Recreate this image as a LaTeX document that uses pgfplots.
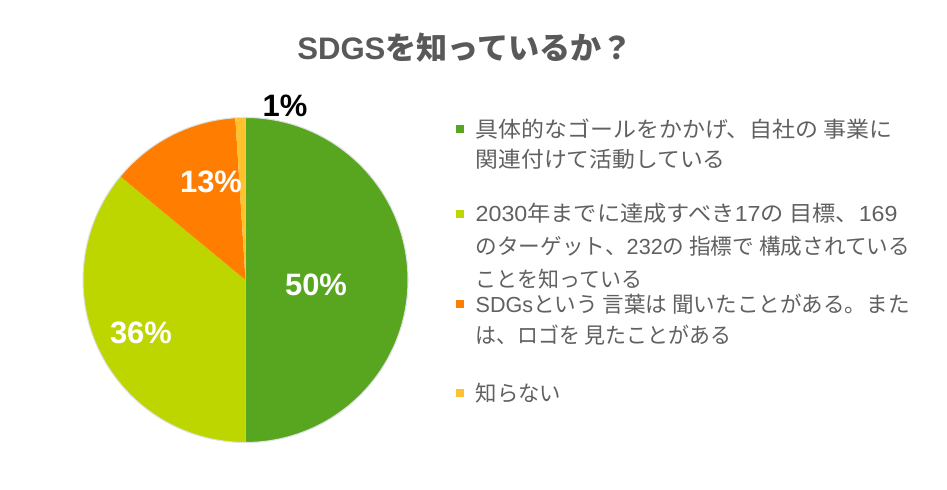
\documentclass[border=0pt]{standalone}
\usepackage{pgfplots}
\pgfplotsset{compat=1.18}
\usepackage{pgfplotstable}
\usepackage{fontspec}
\setmainfont{Liberation Sans}
\newfontfamily\jp{Noto Sans CJK JP}
\definecolor{c1}{HTML}{58A620}
\definecolor{c2}{HTML}{BDD600}
\definecolor{c3}{HTML}{FF7D00}
\definecolor{c4}{HTML}{FFC22E}
\definecolor{txt}{HTML}{595959}
\definecolor{ltxt}{HTML}{606060}
\pgfplotstableread{
idx value color
0 50 c1
1 36 c2
2 13 c3
3 1 c4
}\piedata
\begin{document}
\begin{tikzpicture}
\begin{axis}[
  width=94.7mm, height=49mm, scale only axis,
  xmin=0, xmax=947, ymin=0, ymax=490, y dir=reverse,
  axis lines=none, clip=false,
]
\path (axis cs:0,0) rectangle (axis cs:947,490);
\def\cx{245.5}\def\cy{280}
\def\angstart{90}
\pgfplotsforeachungrouped \i in {0,...,3}{%
  \pgfplotstablegetelem{\i}{value}\of\piedata \let\v\pgfplotsretval
  \pgfplotstablegetelem{\i}{color}\of\piedata \let\c\pgfplotsretval
  \pgfmathsetmacro\angend{\angstart-3.6*\v}%
  \edef\temp{\noexpand\fill[\c] (axis cs:\cx,\cy) -- ++(\angstart:16.25mm) arc[start angle=\angstart, end angle=\angend, radius=16.25mm] -- cycle;}%
  \temp
  \let\angstart\angend
}
\draw[black!12, line width=0.3pt] (axis cs:\cx,\cy) circle[radius=16.25mm];
% title
\node[text=txt, font=\fontsize{8.85}{10}\selectfont\bfseries] at (axis cs:465,48) {SDGS{\jp を知っているか？}};
% percent labels
\node[white, font=\fontsize{8.8}{9}\selectfont\bfseries] at (axis cs:316,285) {50\%};
\node[white, font=\fontsize{8.8}{9}\selectfont\bfseries] at (axis cs:141,333) {36\%};
\node[white, font=\fontsize{8.8}{9}\selectfont\bfseries] at (axis cs:211,182) {13\%};
\node[black, font=\fontsize{8.8}{9}\selectfont\bfseries] at (axis cs:285,106) {1\%};
% legend
\fill[c1] (axis cs:456,125) rectangle (axis cs:464,133);
\fill[c2] (axis cs:456,210) rectangle (axis cs:464,218);
\fill[c3] (axis cs:456,300) rectangle (axis cs:464,308);
\fill[c4] (axis cs:456,389) rectangle (axis cs:464,397);
\tikzset{lg/.style={anchor=west, text=ltxt, inner sep=0pt, font=\fontsize{6.2}{7}\selectfont}}
\node[lg] at (axis cs:475,129) {\scalebox{1.053}[1]{\jp 具体的なゴールをかかげ、自社の 事業に}};
\node[lg] at (axis cs:475,159) {\scalebox{1.046}[1]{\jp 関連付けて活動している}};
\node[lg] at (axis cs:475,213) {\scalebox{1.066}[1]{2030{\jp 年までに達成すべき}17{\jp の 目標、}169}};
\node[lg] at (axis cs:475,246) {\scalebox{0.993}[1]{\jp のターゲット、{\rmfamily 232}の 指標で 構成されている}};
\node[lg] at (axis cs:475,279) {\scalebox{0.96}[1]{\jp ことを知っている}};
\node[lg] at (axis cs:475,304) {\scalebox{0.99}[1]{SDGs{\jp という 言葉は 聞いたことがある。また}}};
\node[lg] at (axis cs:475,335) {\scalebox{0.96}[1]{\jp は、ロゴを 見たことがある}};
\node[lg] at (axis cs:475,393) {\scalebox{0.98}[1]{\jp 知らない}};
\end{axis}
\end{tikzpicture}
\end{document}
